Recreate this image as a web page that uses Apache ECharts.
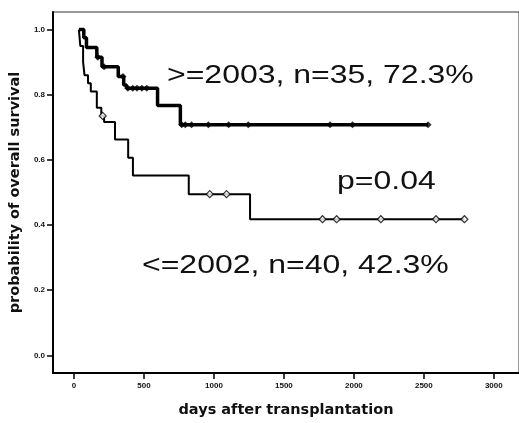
<!DOCTYPE html>
<html>
<head>
<meta charset="utf-8">
<script src="https://cdn.jsdelivr.net/npm/echarts@6/dist/echarts.min.js"></script>
<style>
  html, body { margin: 0; padding: 0; background: #fff; }
  #main { width: 519px; height: 423px; }
</style>
</head>
<body>
<div id="main"></div>
<script>
// tick labels
var dayTicks = [0, 500, 1000, 1500, 2000, 2500, 3000];
var probTicks = [0, 0.2, 0.4, 0.6, 0.8, 1.0];

// >=2003 group: [day, survival] at each step
var lateSteps = [[35, 1.0], [70, 0.975], [89, 0.945], [163, 0.915], [200, 0.886],
  [316, 0.856], [355, 0.83], [375, 0.82], [597, 0.767], [760, 0.708], [2530, 0.708]];
// >=2003 censored
var lateCensor = [[170, 0.915], [215, 0.886], [350, 0.856], [385, 0.82], [420, 0.82], [450, 0.82],
  [485, 0.82], [520, 0.82], [770, 0.708], [795, 0.708], [840, 0.708], [960, 0.708],
  [1105, 0.708], [1245, 0.708], [1830, 0.708], [1990, 0.708], [2530, 0.708]];

// <=2002 group
var earlySteps = [[35, 1.0], [45, 0.95], [65, 0.90], [75, 0.86], [100, 0.835], [120, 0.81],
  [163, 0.76], [195, 0.735], [215, 0.716], [293, 0.663], [387, 0.607], [421, 0.552],
  [820, 0.495], [1258, 0.418], [2790, 0.418]];
// <=2002 censored
var earlyCensor = [[205, 0.735], [970, 0.495], [1090, 0.495], [1776, 0.418], [1877, 0.418],
  [2193, 0.418], [2587, 0.418], [2790, 0.418]];

var labels = {
  late: ">=2003, n=35, 72.3%",
  early: "<=2002, n=40, 42.3%",
  p: "p=0.04"
};

var chart = echarts.init(document.getElementById('main'));

// the scan is a bit stretched sideways, so the big labels are too
var bigFont = { fontFamily: '"Liberation Sans"', fontSize: 26, fill: '#111', verticalAlign: 'middle' };

function bigText(txt, x, y) {
  return { type: 'text', x: x, y: y, scaleX: 1.23, style: Object.assign({ text: txt }, bigFont) };
}

var option = {
  backgroundColor: '#fff',
  animation: false,
  grid: {
    left: 49, top: 12, right: -4, bottom: 40,
    show: true, borderColor: '#333', borderWidth: 1
  },
  xAxis: {
    type: 'value', min: -150, max: 3180,
    name: 'days after transplantation',
    nameLocation: 'middle', nameGap: 30,
    nameTextStyle: { fontFamily: '"DejaVu Sans"', fontWeight: 'bold', fontSize: 14.5, color: '#111' },
    axisLine: { show: true, onZero: false, lineStyle: { color: '#000', width: 2 } },
    axisTick: { show: true, length: 6, customValues: dayTicks, lineStyle: { color: '#000', width: 1.5 } },
    axisLabel: {
      customValues: dayTicks, margin: 9,
      formatter: function (v) { return String(v); },
      fontFamily: '"Liberation Sans"', fontWeight: 'bold', fontSize: 8, color: '#111'
    },
    splitLine: { show: false }
  },
  yAxis: {
    type: 'value', min: -0.054, max: 1.054,
    name: 'probability of overall survival',
    nameLocation: 'middle', nameGap: 30, nameRotate: 90,
    nameTextStyle: { fontFamily: '"DejaVu Sans"', fontWeight: 'bold', fontSize: 14.5, color: '#111' },
    axisLine: { show: true, onZero: false, lineStyle: { color: '#000', width: 2 } },
    axisTick: { show: true, length: 6, customValues: probTicks, lineStyle: { color: '#000', width: 1.5 } },
    axisLabel: {
      customValues: probTicks, margin: 8,
      formatter: function (v) { return v.toFixed(1); },
      fontFamily: '"Liberation Sans"', fontWeight: 'bold', fontSize: 8, color: '#111'
    },
    splitLine: { show: false }
  },
  series: [
    {
      type: 'line', step: 'end', data: earlySteps, showSymbol: false,
      lineStyle: { color: '#000', width: 2 }, z: 2
    },
    {
      type: 'scatter', data: earlyCensor, symbol: 'diamond', symbolSize: 7,
      itemStyle: { color: '#fff', borderColor: '#000', borderWidth: 1.2 }, z: 3
    },
    {
      type: 'line', step: 'end', data: lateSteps, showSymbol: false,
      lineStyle: { color: '#000', width: 3.5 }, z: 4
    },
    {
      type: 'scatter', data: lateCensor, symbol: 'diamond', symbolSize: 7,
      itemStyle: { color: '#000' }, z: 5
    }
  ],
  graphic: [
    bigText(labels.late, 167, 76),
    bigText(labels.p, 337, 182),
    bigText(labels.early, 142, 266)
  ]
};

chart.setOption(option);
</script>
</body>
</html>
